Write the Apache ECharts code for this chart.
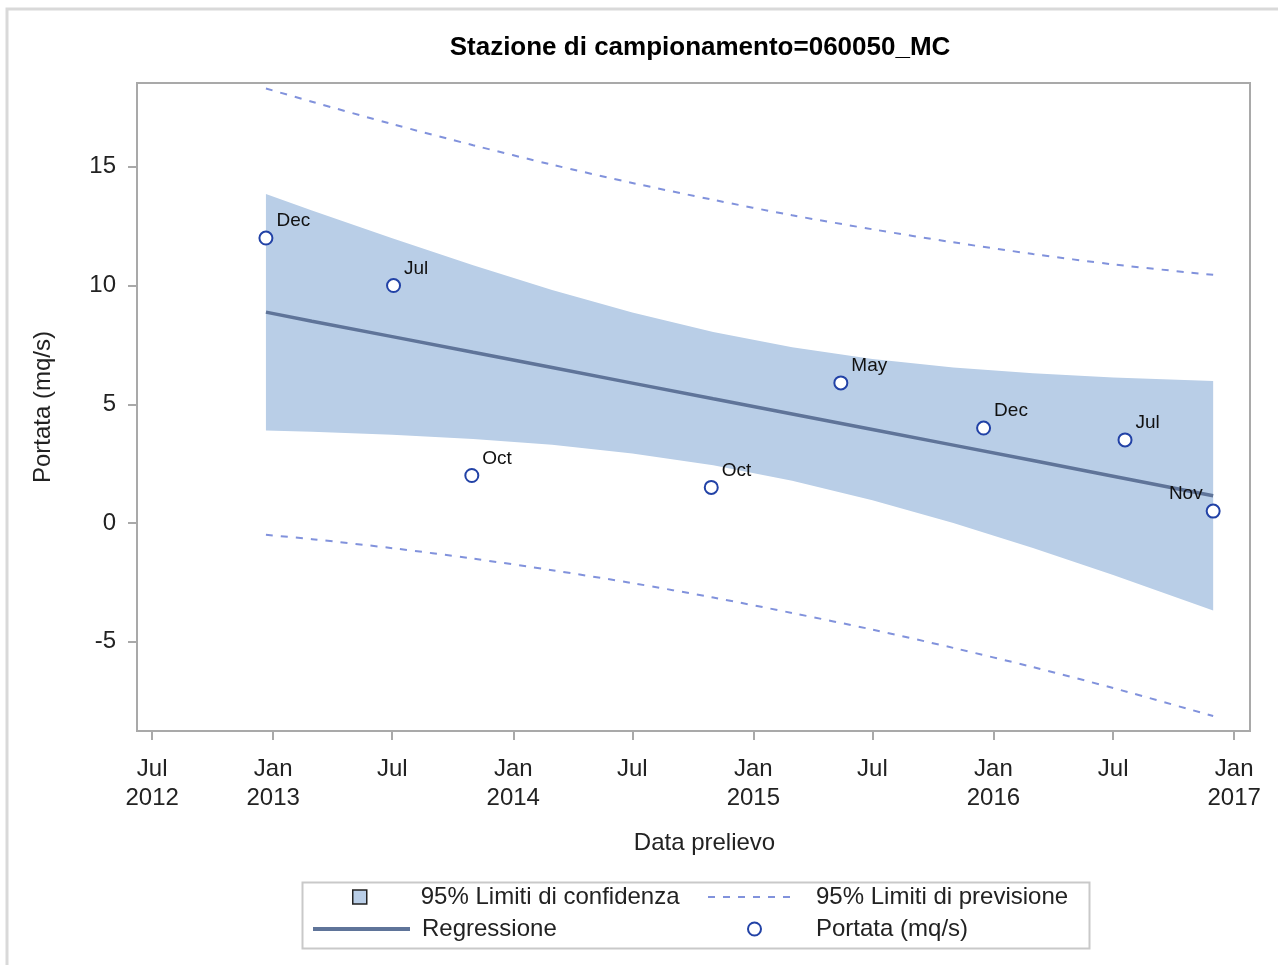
<!DOCTYPE html>
<html>
<head>
<meta charset="utf-8">
<script src="https://cdn.jsdelivr.net/npm/echarts@6/dist/echarts.min.js"></script>
<style>
html,body{margin:0;padding:0;background:#fff;}
#chart{width:1278px;height:965px;}
</style>
</head>
<body>
<div id="chart"></div>
<script>
// ---------- DATA ----------
const titleText = 'Stazione di campionamento=060050_MC';
const xAxisName = 'Data prelievo';
const yAxisName = 'Portata (mq/s)';

// observed points
const pointDates = ['2012-12-21','2013-07-03','2013-10-30','2014-10-29','2015-05-14','2015-12-17','2016-07-19','2016-11-30'];
const pointValues = [12, 10, 2, 1.5, 5.9, 4, 3.5, 0.5];
const pointLabels = ['Dec','Jul','Oct','Oct','May','Dec','Jul','Nov'];

// fit / bands
const bandDates = ['2012-12-21','2013-03-01','2013-07-01','2013-11-01','2014-03-01','2014-07-01','2014-11-01','2015-03-01','2015-07-01','2015-11-01','2016-03-01','2016-07-01','2016-11-30'];
const regression = [8.88, 8.50, 7.85, 7.19, 6.55, 5.89, 5.23, 4.59, 3.94, 3.28, 2.63, 1.97, 1.15];
const confUpper  = [13.86, 13.16, 11.99, 10.85, 9.81, 8.86, 8.04, 7.40, 6.91, 6.55, 6.31, 6.13, 5.98];
const confLower  = [3.90, 3.84, 3.72, 3.54, 3.29, 2.93, 2.43, 1.78, 0.96, 0.00, -1.05, -2.19, -3.68];
const predUpper  = [18.30, 17.74, 16.80, 15.91, 15.09, 14.32, 13.61, 12.96, 12.37, 11.82, 11.33, 10.89, 10.45];
const predLower  = [-0.50, -0.68, -1.06, -1.50, -1.99, -2.53, -3.14, -3.79, -4.49, -5.26, -6.07, -6.95, -8.13];

// axes
const xMinDate = '2012-06-08';
const xMaxDate = '2017-01-25';
const xTickDates = ['2012-07-01','2013-01-01','2013-07-01','2014-01-01','2014-07-01','2015-01-01','2015-07-01','2016-01-01','2016-07-01','2017-01-01'];
const xTickLabels = ['Jul\n2012','Jan\n2013','Jul','Jan\n2014','Jul','Jan\n2015','Jul','Jan\n2016','Jul','Jan\n2017'];
const yMin = -8.76, yMax = 18.53;
const yTicks = [-5, 0, 5, 10, 15];

const legendNames = ['95% Limiti di confidenza', 'Regressione', '95% Limiti di previsione', 'Portata (mq/s)'];

// ---------- helpers ----------
function ts(s){ const p = s.split('-').map(Number); return Date.UTC(p[0], p[1]-1, p[2]); }
const FONT = "'Liberation Sans', Arial, sans-serif";
const bandTs = bandDates.map(ts);
const xTickTs = xTickDates.map(ts);

const C_BAND = '#b9cee7';
const C_REG = '#5f7499';
const C_PRED = '#8192dc';
const C_PT = '#2242a6';
const C_AXIS = '#a9a9a9';

const chart = echarts.init(document.getElementById('chart'), null, {renderer:'canvas'});

const scatterData = pointDates.map((d,i) => {
  const item = {value:[ts(d), pointValues[i]], name: pointLabels[i]};
  if (i === pointDates.length - 1) item.label = {position:'left'};
  return item;
});

const hiddenSymbol = {color: 'transparent', borderColor: 'transparent', borderWidth: 0};
const legendText = {fontFamily: FONT, fontSize: 24, color: '#222'};

const option = {
  animation: false,
  backgroundColor: '#fff',
  title: {
    text: titleText, left: 695, top: 30, textAlign: 'center',
    textStyle: {fontFamily: FONT, fontSize: 26, fontWeight: 'bold', color: '#000'}
  },
  grid: {left: 137, top: 83, right: 28, bottom: 234, show: true, borderColor: C_AXIS, borderWidth: 2, backgroundColor: 'transparent', containLabel: false},
  xAxis: {
    type: 'value', min: ts(xMinDate), max: ts(xMaxDate),
    name: xAxisName, nameLocation: 'middle', nameGap: 100,
    nameTextStyle: {fontFamily: FONT, fontSize: 24, color: '#222', padding: [0,0,0,22]},
    axisLine: {show: true, onZero: false, lineStyle: {color: C_AXIS, width: 2}},
    axisTick: {show: true, customValues: xTickTs, length: 9, lineStyle: {color: C_AXIS, width: 2}},
    axisLabel: {
      customValues: xTickTs, margin: 24, hideOverlap: false, showMinLabel: true, showMaxLabel: true,
      fontFamily: FONT, fontSize: 24, color: '#222', lineHeight: 29,
      formatter: function(v){ const i = xTickTs.indexOf(v); return i >= 0 ? xTickLabels[i] : ''; }
    },
    splitLine: {show: false}
  },
  yAxis: {
    type: 'value', min: yMin, max: yMax,
    name: yAxisName, nameLocation: 'middle', nameGap: 82, nameRotate: 90,
    nameTextStyle: {fontFamily: FONT, fontSize: 24, color: '#222'},
    axisLine: {show: true, onZero: false, lineStyle: {color: C_AXIS, width: 2}},
    axisTick: {show: true, customValues: yTicks, length: 9, lineStyle: {color: C_AXIS, width: 2}},
    axisLabel: {customValues: yTicks, margin: 21, fontFamily: FONT, fontSize: 24, color: '#222', formatter: v => String(v)},
    splitLine: {show: false}
  },
  legend: [
    {data: [{name: legendNames[0], icon: 'rect'}], itemStyle: {color: C_BAND, borderColor: '#222', borderWidth: 1.5},
     left: 352, top: 885, padding: 0, itemWidth: 14, itemHeight: 14, selectedMode: false,
     textStyle: Object.assign({padding: [0,0,0,49]}, legendText)},
    {data: [legendNames[1]], itemStyle: hiddenSymbol, lineStyle: {width: 4, color: C_REG},
     left: 311, top: 917, padding: 0, itemWidth: 97, itemHeight: 14, selectedMode: false,
     textStyle: Object.assign({padding: [0,0,0,7]}, legendText)},
    {data: [legendNames[2]], itemStyle: hiddenSymbol, lineStyle: {width: 2, color: C_PRED, type: [7, 8]},
     left: 707, top: 885, padding: 0, itemWidth: 88, itemHeight: 14, selectedMode: false,
     textStyle: Object.assign({padding: [0,0,0,15]}, legendText)},
    {data: [legendNames[3]], left: 747, top: 917, padding: 0, itemWidth: 13, itemHeight: 13, selectedMode: false,
     textStyle: Object.assign({padding: [0,0,0,50]}, legendText)}
  ],
  graphic: [
    {type: 'rect', left: 300, top: 880, shape: {width: 787, height: 66}, style: {fill: 'none', stroke: '#c9c9c9', lineWidth: 2}, silent: true, z: -1},
    {type: 'polyline', shape: {points: [[7,965],[7,9],[1278,9]]}, style: {fill: 'none', stroke: '#d9d9d9', lineWidth: 3}, silent: true, z: -1}
  ],
  series: [
    {
      name: legendNames[0], type: 'custom', z: 1,
      itemStyle: {color: C_BAND, borderColor: '#222', borderWidth: 1.5},
      data: bandTs.map((t,i) => [t, confLower[i], confUpper[i]]),
      encode: {x: 0, y: [1, 2]},
      renderItem: function(params, api){
        if (params.dataIndex !== 0) return null;
        const pts = [];
        for (let i = 0; i < bandTs.length; i++) pts.push(api.coord([bandTs[i], confUpper[i]]));
        for (let i = bandTs.length - 1; i >= 0; i--) pts.push(api.coord([bandTs[i], confLower[i]]));
        return {type: 'polygon', shape: {points: pts}, style: {fill: C_BAND, stroke: null}};
      }
    },
    {
      name: legendNames[1], type: 'line', z: 3, symbol: 'none', smooth: false,
      lineStyle: {color: C_REG, width: 3.5}, itemStyle: {color: C_REG},
      data: bandTs.map((t,i) => [t, regression[i]])
    },
    {
      name: legendNames[2], type: 'line', z: 3, symbol: 'none', smooth: 0.3,
      lineStyle: {color: C_PRED, width: 2, type: [7, 8]}, itemStyle: {color: C_PRED},
      data: bandTs.map((t,i) => [t, predUpper[i]])
    },
    {
      name: legendNames[2], type: 'line', z: 3, symbol: 'none', smooth: 0.3,
      lineStyle: {color: C_PRED, width: 2, type: [7, 8]}, itemStyle: {color: C_PRED},
      data: bandTs.map((t,i) => [t, predLower[i]])
    },
    {
      name: legendNames[3], type: 'scatter', z: 5, symbol: 'emptyCircle', symbolSize: 13,
      itemStyle: {color: C_PT, borderColor: C_PT, borderWidth: 2.5, opacity: 1},
      label: {show: true, position: 'right', distance: 3, offset: [0, -17], formatter: p => p.name,
              fontFamily: FONT, fontSize: 19, color: '#111'},
      data: scatterData
    }
  ]
};
chart.setOption(option);
</script>
</body>
</html>
